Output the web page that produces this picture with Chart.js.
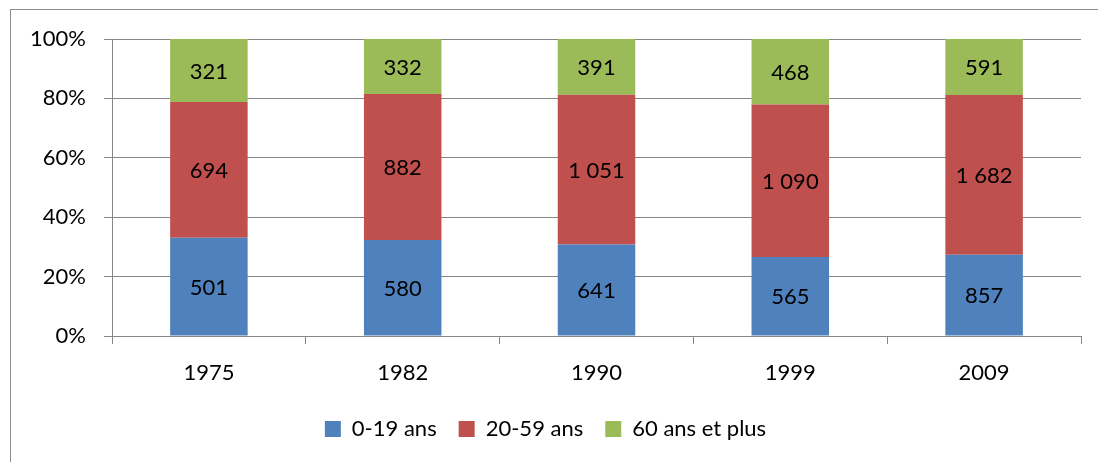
<!DOCTYPE html>
<html>
<head>
<meta charset="utf-8">
<script src="https://cdn.jsdelivr.net/npm/chart.js@4"></script>
<style>
  html, body { margin: 0; padding: 0; background: #fff; }
  #wrap { width: 1098px; height: 462px; position: relative; }
</style>
</head>
<body>
<div id="wrap"><canvas id="popChart" width="1098" height="462"></canvas></div>
<script>
    'use strict';

    // années de recensement
    const years = ['1975', '1982', '1990', '1999', '2009'];
    // effectifs par tranche d'âge
    const age0to19 = [501, 580, 641, 565, 857];
    const age20to59 = [694, 882, 1051, 1090, 1682];
    const age60plus = [321, 332, 391, 468, 591];
    const seriesNames = ['0-19 ans', '20-59 ans', '60 ans et plus'];
    const yTicks = [0, 20, 40, 60, 80, 100];

    const colors = ['#4F81BD', '#C0504D', '#9BBB59'];
    const gridColor = '#868686';
    const fontFamily = 'Lato, "Open Sans", sans-serif';

    const totals = years.map((y, i) => age0to19[i] + age20to59[i] + age60plus[i]);

    function toPercent(arr) {
        return arr.map((v, i) => v / totals[i] * 100);
    }

    function formatValue(v) {
        // séparateur de milliers : espace
        return String(v).replace(/\B(?=(\d{3})+(?!\d))/g, ' ');
    }

    const rawSeries = [age0to19, age20to59, age60plus];

    const valueLabels = {
        id: 'valueLabels',
        afterDatasetsDraw(chart) {
            const ctx = chart.ctx;
            ctx.save();
            ctx.font = '22px ' + fontFamily;
            ctx.fillStyle = '#000';
            ctx.textAlign = 'center';
            ctx.textBaseline = 'middle';
            chart.data.datasets.forEach((ds, di) => {
                const meta = chart.getDatasetMeta(di);
                meta.data.forEach((bar, i) => {
                    const cy = (bar.y + bar.base) / 2;
                    ctx.fillText(formatValue(rawSeries[di][i]), bar.x, cy + 1);
                });
            });
            ctx.restore();
        }
    };

    const outerFrame = {
        id: 'outerFrame',
        beforeDraw(chart) {
            const ctx = chart.ctx;
            ctx.save();
            ctx.strokeStyle = '#8c8c8c';
            ctx.lineWidth = 1;
            ctx.strokeRect(10.5, 9.5, 2000, 2000);
            ctx.restore();
        }
    };

    new Chart(document.getElementById('popChart'), {
        type: 'bar',
        data: {
            labels: years,
            datasets: rawSeries.map((arr, i) => ({
                label: seriesNames[i],
                data: toPercent(arr),
                backgroundColor: colors[i],
                borderWidth: 0,
                categoryPercentage: 1,
                barPercentage: 0.4
            }))
        },
        options: {
            responsive: false,
            animation: false,
            layout: { padding: { left: 10, right: 17, top: 39, bottom: 12 } },
            plugins: {
                legend: {
                    display: true,
                    position: 'bottom',
                    labels: {
                        boxWidth: 16,
                        boxHeight: 16,
                        padding: 22,
                        color: '#000',
                        font: { family: fontFamily, size: 22 }
                    }
                },
                tooltip: { enabled: false }
            },
            scales: {
                x: {
                    stacked: true,
                    afterFit: function(scale) { scale.height = 60; },
                    grid: {
                        display: true,
                        drawOnChartArea: false,
                        drawTicks: true,
                        tickLength: 8,
                        color: gridColor,
                        offset: true
                    },
                    border: { display: true, color: gridColor },
                    ticks: {
                        color: '#000',
                        padding: 16,
                        font: { family: fontFamily, size: 22 }
                    }
                },
                y: {
                    stacked: true,
                    min: 0,
                    max: 100,
                    afterFit: function(scale) { scale.width = 102; },
                    afterBuildTicks: function(scale) {
                        scale.ticks = yTicks.map(v => ({ value: v }));
                    },
                    grid: {
                        color: gridColor,
                        drawTicks: true,
                        tickLength: 8
                    },
                    border: { display: true, color: gridColor },
                    ticks: {
                        color: '#000',
                        padding: 18,
                        font: { family: fontFamily, size: 22 },
                        callback: function(value) { return value + '%'; }
                    }
                }
            }
        },
        plugins: [outerFrame, valueLabels]
    });
</script>
</body>
</html>
